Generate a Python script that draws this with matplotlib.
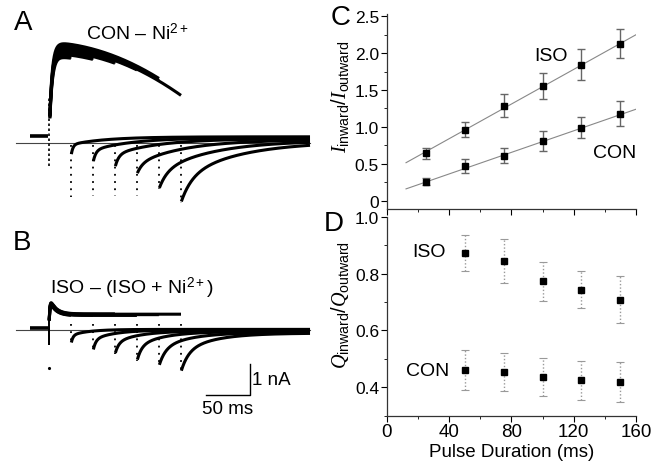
import numpy as np
import matplotlib
matplotlib.use('Agg')
import matplotlib.pyplot as plt
from matplotlib.ticker import FixedLocator, MultipleLocator

plt.rcParams['font.family'] = ['Liberation Sans', 'DejaVu Sans']
plt.rcParams['mathtext.fontset'] = 'custom'
plt.rcParams['mathtext.rm'] = 'Liberation Sans'
plt.rcParams['mathtext.it'] = 'Liberation Serif:italic'
plt.rcParams['mathtext.bf'] = 'Liberation Sans:bold'

# ---------------- data ----------------
pulse_ms = [25, 50, 75, 100, 125, 150]

# Panel C : I_inward / I_outward
c_x = [25, 50, 75, 100, 125, 150]
c_iso = [0.64, 0.96, 1.29, 1.555, 1.84, 2.13]
c_iso_err = [0.08, 0.10, 0.16, 0.17, 0.21, 0.20]
c_con = [0.26, 0.47, 0.61, 0.81, 0.99, 1.18]
c_con_err = [0.05, 0.09, 0.10, 0.14, 0.14, 0.17]
c_fit_x = [12.4, 160]
c_iso_fit = [0.515, 2.25]
c_con_fit = [0.16, 1.24]

# Panel D : Q_inward / Q_outward
d_x = [50, 75, 100, 125, 150]
d_iso = [0.873, 0.846, 0.773, 0.744, 0.709]
d_iso_err = [0.062, 0.077, 0.070, 0.064, 0.082]
d_con = [0.460, 0.452, 0.436, 0.424, 0.417]
d_con_err = [0.070, 0.067, 0.066, 0.068, 0.071]

# Panel A trace parameters (nA, ms)
a_hold = 0.24
a_env = [3.25, -0.0011, -6.6e-5]
a_gain = [0.86, 0.89, 0.92, 0.95, 1.0, 0.96]
a_rise_tau = 3.0
a_onset_cap = -0.74
a_tail_peak = [-0.43, -0.64, -0.79, -1.0, -1.48, -1.92]
a_tail_w = [0.6, 0.5, 0.45, 0.3, 0.35, 0.4]
a_tail_tau1 = [2, 3, 4, 6, 9, 12]
a_tail_tau2 = [40, 45, 50, 55, 60, 65]
a_tail_end = [0.2, 0.17, 0.14, 0.11, 0.08, 0.05]
a_cap = [-1.75, -1.72, -1.70, -1.70, -1.48, -1.92]

# Panel B trace parameters (nA, ms)
b_hold = 0.05
b_plateau = 0.5
b_peak_extra = 0.55
b_peak_tau = 7.0
b_rise_tau = 0.8
b_gain = [0.92, 0.96, 1.04, 0.94, 0.99, 1.02]
b_onset_cap = -0.46
b_onset_dot = -1.23
b_tail_peak = [-0.46, -0.68, -0.78, -1.0, -1.16, -1.35]
b_tail_w = [0.6, 0.55, 0.5, 0.5, 0.5, 0.5]
b_tail_tau1 = [2, 3, 4, 5, 7, 8]
b_tail_tau2 = [20, 25, 28, 30, 33, 35]
b_tail_end = [0.02, 0.0, -0.03, -0.05, -0.08, -0.1]
b_end_dot = 0.18

sweep_start = -37.5
sweep_end = 296.6
hold_start = -21.6

# ---------------- figure ----------------
W, H = 664, 464
fig = plt.figure(figsize=(W / 100, H / 100), dpi=100)


def fr(x0, y0, x1, y1):
    return [x0 / W, 1 - y1 / H, (x1 - x0) / W, (y1 - y0) / H]


def tail(s, P, h, w, t1, t2):
    return h + (P - h) * (w * np.exp(-s / t1) + (1 - w) * np.exp(-s / t2))


def band(ax, t, curves, durations):
    # fill between the lowest and highest of the traces still running at time t
    arr = np.array(curves)
    act = np.array([t <= D for D in durations])
    lo = np.where(act, arr, np.inf).min(axis=0)
    hi = np.where(act, arr, -np.inf).max(axis=0)
    ax.fill_between(t, lo, hi, color='k', lw=0)


px_ms = 0.88
px_na = 31.0
x_on = 49.0

# ----- Panel A -----
axA = fig.add_axes(fr(0, 0, 330, 230))
axA.set_xlim(-x_on / px_ms, (330 - x_on) / px_ms)
axA.set_ylim(-(230 - 144) / px_na, 144 / px_na)
axA.axis('off')
axA.plot([sweep_start, sweep_end], [0, 0], color='#444', lw=0.8)
axA.plot([hold_start, -0.8], [a_hold, a_hold], color='k', lw=2.6, solid_capstyle='butt')
axA.plot([0.3, 0.3], [a_onset_cap, 1.5], color='k', lw=1.2, linestyle=(0, (1.5, 1.5)))
tg = np.linspace(1.0, max(pulse_ms), 900)
a_curves = []
for i, D in enumerate(pulse_ms):
    env = (a_env[0] + a_env[1] * tg + a_env[2] * tg ** 2) * a_gain[i] * (1 - np.exp(-tg / a_rise_tau))
    a_curves.append(env)
    m = tg <= D
    axA.plot(tg[m], env[m], color='k', lw=2.2, solid_capstyle='butt')
    s = np.linspace(0.4, sweep_end - D, 700)
    axA.plot(D + s, tail(s, a_tail_peak[i], a_tail_end[i], a_tail_w[i], a_tail_tau1[i], a_tail_tau2[i]),
             color='k', lw=2.2, solid_capstyle='butt')
    axA.plot([D - 0.5, D - 0.5], [-0.05, a_cap[i]], color='k', lw=1.3, linestyle=(0, (1, 3)))
band(axA, tg, a_curves, pulse_ms)
fig.text(23 / W, 1 - 23 / H, 'A', fontsize=20, ha='center', va='center')
axA.text((137 - x_on) / px_ms, (144 - 33) / px_na, 'CON – Ni$^{2+}$',
         fontsize=14, ha='center', va='center')

# ----- Panel B -----
axB = fig.add_axes(fr(0, 230, 330, 464))
axB.set_xlim(-x_on / px_ms, (330 - x_on) / px_ms)
axB.set_ylim(-(464 - 331) / px_na, (331 - 230) / px_na)
axB.axis('off')
axB.plot([sweep_start, sweep_end], [0, 0], color='#444', lw=0.8)
axB.plot([hold_start, -0.3], [b_hold, b_hold], color='k', lw=2.6, solid_capstyle='butt')
axB.plot([0, 0], [b_hold, b_onset_cap], color='k', lw=1.4)
axB.plot([0.2, 0.2], [b_onset_cap, 0.3], color='k', lw=1.4)
axB.plot([-0.3], [b_onset_dot], 'k.', ms=2.5)
tb = np.linspace(0.3, max(pulse_ms), 900)
b_curves = []
for i, D in enumerate(pulse_ms):
    out = b_gain[i] * (b_plateau + b_peak_extra * np.exp(-tb / b_peak_tau)) * (1 - np.exp(-tb / b_rise_tau))
    b_curves.append(out)
    m = tb <= D
    axB.plot(tb[m], out[m], color='k', lw=2.2, solid_capstyle='butt')
    s = np.linspace(0.4, sweep_end - D, 700)
    axB.plot(D + s, tail(s, b_tail_peak[i], b_tail_end[i], b_tail_w[i], b_tail_tau1[i], b_tail_tau2[i]),
             color='k', lw=2.2, solid_capstyle='butt')
    axB.plot([D - 0.5, D - 0.5], [b_end_dot, b_tail_peak[i]], color='k', lw=1.3, linestyle=(0, (1, 3)))
band(axB, tb, b_curves, pulse_ms)
fig.text(22 / W, 1 - 243 / H, 'B', fontsize=20, ha='center', va='center')
axB.text((132 - x_on) / px_ms, (331 - 288) / px_na, 'ISO – (ISO + Ni$^{2+}$)',
         fontsize=14, ha='center', va='center')
# scale bar
sb_x = (250 - x_on) / px_ms
sb_y = (331 - 396) / px_na
axB.plot([sb_x - 50, sb_x, sb_x], [sb_y, sb_y, sb_y + 1], color='k', lw=1.0)
axB.text(sb_x + 2, sb_y + 0.5, '1 nA', fontsize=13.5, ha='left', va='center')
axB.text(sb_x - 26, sb_y - 0.45, '50 ms', fontsize=13.5, ha='center', va='center')

# ----- Panel C -----
axC = fig.add_axes(fr(386.7, 15, 636, 209.5))
axC.set_xlim(0, 160)
axC.set_ylim(-0.106, 2.531)
axC.plot(c_fit_x, c_iso_fit, color='#888', lw=0.8)
axC.plot(c_fit_x, c_con_fit, color='#888', lw=0.8)
for y, e in ((c_iso, c_iso_err), (c_con, c_con_err)):
    axC.errorbar(c_x, y, yerr=e, fmt='s', color='k', ms=3.8, ecolor='#666',
                 elinewidth=1.0, capsize=3, capthick=1.0)
axC.text(105.3, 1.975, 'ISO', fontsize=14, ha='center', va='center')
axC.text(146.5, 0.647, 'CON', fontsize=14, ha='center', va='center')
axC.yaxis.set_major_locator(FixedLocator([0, 0.5, 1.0, 1.5, 2.0, 2.5]))
axC.set_yticklabels(['0', '0.5', '1.0', '1.5', '2.0', '2.5'])
axC.yaxis.set_minor_locator(MultipleLocator(0.25))
axC.xaxis.set_major_locator(MultipleLocator(40))
axC.xaxis.set_minor_locator(MultipleLocator(20))
axC.tick_params(axis='x', labelbottom=False)
fig.text(341 / W, 1 - 18 / H, 'C', fontsize=20, ha='center', va='center')
fig.text(340 / W, 1 - 97 / H, r'$I_{\mathrm{inward}}/I_{\mathrm{outward}}$', fontsize=14.5,
         rotation=90, ha='center', va='center')

# ----- Panel D -----
axD = fig.add_axes(fr(386.7, 218, 636, 416.5))
axD.set_xlim(0, 160)
axD.set_ylim(0.3, 1.0)
for y, e in ((d_iso, d_iso_err), (d_con, d_con_err)):
    eb = axD.errorbar(d_x, y, yerr=e, fmt='s', color='k', ms=3.8, ecolor='#999',
                      elinewidth=1.0, capsize=3, capthick=0.8)
    for lc in eb[2]:
        lc.set_linestyle((0, (1, 1.5)))
axD.text(27.0, 0.88, 'ISO', fontsize=14, ha='center', va='center')
axD.text(26.5, 0.46, 'CON', fontsize=14, ha='center', va='center')
axD.yaxis.set_major_locator(FixedLocator([0.4, 0.6, 0.8, 1.0]))
axD.yaxis.set_minor_locator(MultipleLocator(0.1))
axD.xaxis.set_major_locator(MultipleLocator(40))
axD.xaxis.set_minor_locator(MultipleLocator(20))
axD.set_xlabel('Pulse Duration (ms)', fontsize=13.5, labelpad=2)
fig.text(334 / W, 1 - 224 / H, 'D', fontsize=20, ha='center', va='center')
fig.text(340 / W, 1 - 305 / H, r'$Q_{\mathrm{inward}}/Q_{\mathrm{outward}}$', fontsize=14.5,
         rotation=90, ha='center', va='center')

for ax in (axC, axD):
    for sp in ('top', 'right'):
        ax.spines[sp].set_visible(False)
    for sp in ('left', 'bottom'):
        ax.spines[sp].set_color('#333')
        ax.spines[sp].set_linewidth(0.9)
    ax.tick_params(axis='both', which='major', length=4, width=0.8, direction='out', pad=1.5)
    ax.tick_params(axis='both', which='minor', length=2, width=0.6, direction='out')
    ax.tick_params(axis='y', labelsize=12.5)
    ax.tick_params(axis='x', labelsize=13.5)

fig.savefig('out.png', dpi=100)
